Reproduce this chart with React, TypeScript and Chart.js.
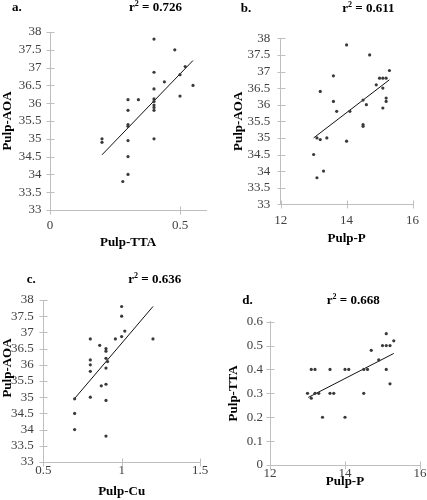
import React, { useEffect, useRef } from "react";
import { Chart, registerables } from "chart.js";

Chart.register(...registerables);

const FONT = "'Liberation Serif', 'Times New Roman', serif";
const AXIS_COLOR = "#bfbfbf";
const TICK_COLOR = "#404040";
const POINT_COLOR = "#3a3a3a";

// ---- Panel a: Pulp-TTA vs Pulp-AOA ----
const aX = [0.2, 0.2, 0.28, 0.3, 0.3, 0.3, 0.3, 0.3, 0.3, 0.3, 0.34, 0.4, 0.4, 0.4, 0.4, 0.4, 0.4, 0.4, 0.4, 0.4, 0.44, 0.48, 0.5, 0.5, 0.52, 0.55];
const aY = [35.0, 34.9, 33.8, 36.1, 35.8, 35.4, 35.35, 34.95, 34.5, 34.0, 36.1, 37.8, 36.87, 36.4, 36.12, 36.05, 35.95, 35.88, 35.8, 35.0, 36.6, 37.5, 36.8, 36.2, 37.03, 36.5];
const aTrendX = [0.2, 0.55];
const aTrendY = [34.55, 37.2];

// ---- Panel b: Pulp-P vs Pulp-AOA ----
const bX = [13.0, 13.1, 13.2, 13.1, 13.2, 13.4, 13.3, 13.6, 13.6, 13.7, 14.0, 14.0, 14.1, 14.5, 14.5, 14.5, 14.6, 14.7, 14.9, 15.0, 15.1, 15.2, 15.1, 15.1, 15.2, 15.2, 15.3];
const bY = [34.5, 33.8, 36.4, 35.0, 34.95, 35.0, 34.0, 36.87, 36.1, 35.8, 37.8, 34.9, 35.8, 36.14, 35.4, 35.35, 36.0, 37.5, 36.6, 36.8, 36.8, 36.8, 36.5, 35.9, 36.2, 36.1, 37.03];
const bTrendX = [13.0, 15.3];
const bTrendY = [35.0, 36.75];

// ---- Panel c: Pulp-Cu vs Pulp-AOA ----
const cX = [0.7, 0.7, 0.7, 0.8, 0.8, 0.8, 0.8, 0.8, 0.86, 0.87, 0.9, 0.9, 0.9, 0.9, 0.9, 0.9, 0.9, 0.91, 0.96, 1.0, 1.0, 1.0, 1.02, 1.2];
const cY = [34.95, 34.5, 34.0, 36.8, 36.15, 36.0, 35.8, 35.0, 36.6, 35.35, 36.5, 36.42, 36.2, 35.9, 35.4, 34.9, 33.8, 36.1, 36.8, 37.8, 37.5, 36.87, 37.04, 36.8];
const cTrendX = [0.7, 1.2];
const cTrendY = [34.96, 37.8];

// ---- Panel d: Pulp-P vs Pulp-TTA ----
const dX = [13.0, 13.1, 13.1, 13.2, 13.2, 13.3, 13.4, 13.6, 13.6, 13.7, 14.0, 14.1, 14.0, 14.5, 14.5, 14.6, 14.7, 14.9, 15.0, 15.1, 15.2, 15.1, 15.1, 15.2, 15.3];
const dY = [0.3, 0.28, 0.4, 0.4, 0.3, 0.3, 0.2, 0.4, 0.3, 0.3, 0.4, 0.4, 0.2, 0.3, 0.4, 0.4, 0.48, 0.44, 0.5, 0.5, 0.5, 0.55, 0.4, 0.34, 0.52];
const dTrendX = [13.02, 15.3];
const dTrendY = [0.283, 0.467];

// labels
const panelLetters = ["a.", "b.", "c.", "d."];
const r2Values = ["0.726", "0.611", "0.636", "0.668"];
const xTitles = ["Pulp-TTA", "Pulp-P", "Pulp-Cu", "Pulp-P"];
const yTitles = ["Pulp-AOA", "Pulp-AOA", "Pulp-AOA", "Pulp-TTA"];

type Geo = {
  left: number; top: number; w: number; h: number;
  areaL: number; areaR: number; areaT: number; areaB: number;
  xMin: number; xMax: number; xStep: number;
  yMin: number; yMax: number; yStep: number;
  yTitlePad: number; xTitlePad: number; xTickPad: number; yTickPad: number;
  letterX: number; letterY: number; r2X: number; r2Y: number;
  yTitleCustom?: { x: number; y: number };
};

const geos: Geo[] = [
  { left: 0, top: 0, w: 214, h: 250, areaL: 50, areaR: 206, areaT: 32, areaB: 210,
    xMin: 0, xMax: 0.6, xStep: 0.5, yMin: 33, yMax: 38, yStep: 0.5,
    yTitlePad: 0, xTitlePad: 0, xTickPad: 8, yTickPad: 8.5,
    letterX: 12, letterY: 8, r2X: 129, r2Y: 8 },
  { left: 214, top: 0, w: 213, h: 250, areaL: 66.7, areaR: 206.7, areaT: 38.3, areaB: 204.3,
    xMin: 12, xMax: 16, xStep: 2, yMin: 33, yMax: 38, yStep: 0.5,
    yTitlePad: 17.2, xTitlePad: 3.9, xTickPad: 8, yTickPad: 10.5,
    letterX: 26.7, letterY: 9, r2X: 128.3, r2Y: 9 },
  { left: 0, top: 250, w: 214, h: 250, areaL: 43.3, areaR: 200, areaT: 50, areaB: 212,
    xMin: 0.5, xMax: 1.5, xStep: 0.5, yMin: 33, yMax: 38, yStep: 0.5,
    yTitlePad: 0, xTitlePad: 0.5, xTickPad: 1, yTickPad: 9.5,
    letterX: 26.7, letterY: 30, r2X: 128.3, r2Y: 30, yTitleCustom: { x: 7.8, y: 118 } },
  { left: 214, top: 250, w: 213, h: 250, areaL: 56, areaR: 206.7, areaT: 71.7, areaB: 215,
    xMin: 12, xMax: 16, xStep: 2, yMin: 0, yMax: 0.6, yStep: 0.1,
    yTitlePad: 12.2, xTitlePad: 10.5, xTickPad: 0.5, yTickPad: 7,
    letterX: 28.3, letterY: 51, r2X: 112.7, r2Y: 51 },
];

const seriesX = [aX, bX, cX, dX];
const seriesY = [aY, bY, cY, dY];
const trendX = [aTrendX, bTrendX, cTrendX, dTrendX];
const trendY = [aTrendY, bTrendY, cTrendY, dTrendY];

const fmt = (v: number) => String(Math.round(v * 1000) / 1000);

function Panel({ idx }: { idx: number }) {
  const ref = useRef<HTMLCanvasElement>(null);
  const g = geos[idx];

  useEffect(() => {
    const canvas = ref.current;
    if (!canvas) return;
    const pts = seriesX[idx].map((x, i) => ({ x, y: seriesY[idx][i] }));
    const trend = trendX[idx].map((x, i) => ({ x, y: trendY[idx][i] }));

    const crossTicks = {
      id: "crossTicks" + idx,
      afterDraw(chart: any) {
        const ctx = chart.ctx as CanvasRenderingContext2D;
        const xs = chart.scales.x;
        const ys = chart.scales.y;
        ctx.save();
        ctx.strokeStyle = AXIS_COLOR;
        ctx.lineWidth = 1;
        const axisX = Math.round(chart.chartArea.left) + 0.5;
        const axisY = Math.round(chart.chartArea.bottom) + 0.5;
        ys.ticks.forEach((t: any) => {
          const py = Math.round(ys.getPixelForValue(t.value)) + 0.5;
          ctx.beginPath();
          ctx.moveTo(axisX - 4, py);
          ctx.lineTo(axisX + 4, py);
          ctx.stroke();
        });
        xs.ticks.forEach((t: any) => {
          const px = Math.round(xs.getPixelForValue(t.value)) + 0.5;
          ctx.beginPath();
          ctx.moveTo(px, axisY - 4);
          ctx.lineTo(px, axisY + 4);
          ctx.stroke();
        });
        ctx.restore();
      },
    };

    const panelText = {
      id: "panelText" + idx,
      afterDraw(chart: any) {
        const ctx = chart.ctx as CanvasRenderingContext2D;
        ctx.save();
        ctx.fillStyle = "#000";
        ctx.textBaseline = "middle";
        ctx.textAlign = "left";
        ctx.font = `bold 13px ${FONT}`;
        ctx.fillText(panelLetters[idx], g.letterX, g.letterY);
        let x = g.r2X;
        ctx.fillText("r", x, g.r2Y);
        x += ctx.measureText("r").width;
        ctx.font = `bold 8px ${FONT}`;
        ctx.fillText("2", x, g.r2Y - 4);
        x += ctx.measureText("2").width;
        ctx.font = `bold 13px ${FONT}`;
        ctx.fillText(" = " + r2Values[idx], x, g.r2Y);
        if (g.yTitleCustom) {
          ctx.translate(g.yTitleCustom.x, g.yTitleCustom.y);
          ctx.rotate(-Math.PI / 2);
          ctx.textAlign = "center";
          ctx.fillText(yTitles[idx], 0, 0);
        }
        ctx.restore();
      },
    };

    const makeTicks = (min: number, max: number, step: number) => (scale: any) => {
      const out: any[] = [];
      const n = Math.floor((max - min) / step + 1e-6);
      for (let k = 0; k <= n; k++) out.push({ value: Math.round((min + k * step) * 1e6) / 1e6 });
      scale.ticks = out;
    };

    const chart = new Chart(canvas, {
      type: "scatter",
      data: {
        datasets: [
          {
            data: pts,
            pointRadius: 1.6,
            pointBackgroundColor: POINT_COLOR,
            pointBorderWidth: 0,
            showLine: false,
          },
          {
            data: trend,
            showLine: true,
            pointRadius: 0,
            borderColor: "#111",
            borderWidth: 1,
          },
        ],
      },
      options: {
        responsive: false,
        maintainAspectRatio: false,
        animation: false,
        devicePixelRatio: 1,
        layout: {
          padding: { left: 0, top: g.areaT, right: g.w - g.areaR, bottom: 0 },
        },
        plugins: { legend: { display: false }, tooltip: { enabled: false }, title: { display: false } },
        scales: {
          x: {
            type: "linear",
            min: g.xMin,
            max: g.xMax,
            afterBuildTicks: makeTicks(g.xMin, g.xMax, g.xStep),
            ticks: {
              autoSkip: false,
              color: TICK_COLOR,
              font: { family: FONT, size: 13 },
              padding: g.xTickPad,
              maxRotation: 0,
              callback: (v: any) => fmt(Number(v)),
            },
            grid: { display: false, drawTicks: false },
            border: { display: true, color: AXIS_COLOR, width: 1 },
            title: {
              display: true,
              text: xTitles[idx],
              color: "#000",
              font: { family: FONT, size: 13, weight: "bold" },
              padding: { top: 0, bottom: g.xTitlePad },
            },
            afterFit: (s: any) => { s.height = g.h - g.areaB; },
          },
          y: {
            type: "linear",
            min: g.yMin,
            max: g.yMax,
            afterBuildTicks: makeTicks(g.yMin, g.yMax, g.yStep),
            ticks: {
              autoSkip: false,
              color: TICK_COLOR,
              font: { family: FONT, size: 13 },
              padding: g.yTickPad,
              callback: (v: any) => fmt(Number(v)),
            },
            grid: { display: false, drawTicks: false },
            border: { display: true, color: AXIS_COLOR, width: 1 },
            title: {
              display: !g.yTitleCustom,
              text: yTitles[idx],
              color: "#000",
              font: { family: FONT, size: 13, weight: "bold" },
              padding: { top: g.yTitlePad, bottom: 0 },
            },
            afterFit: (s: any) => { s.width = g.areaL; },
          },
        },
      } as any,
      plugins: [crossTicks, panelText],
    });
    return () => chart.destroy();
  }, [idx]);

  return (
    <canvas
      ref={ref}
      width={g.w}
      height={g.h}
      style={{ position: "absolute", left: g.left, top: g.top, width: g.w, height: g.h }}
    />
  );
}

export default function App() {
  return (
    <div style={{ position: "absolute", left: 0, top: 0, width: 427, height: 500, background: "#fff", overflow: "hidden" }}>
      {geos.map((_, i) => (
        <Panel key={i} idx={i} />
      ))}
    </div>
  );
}
